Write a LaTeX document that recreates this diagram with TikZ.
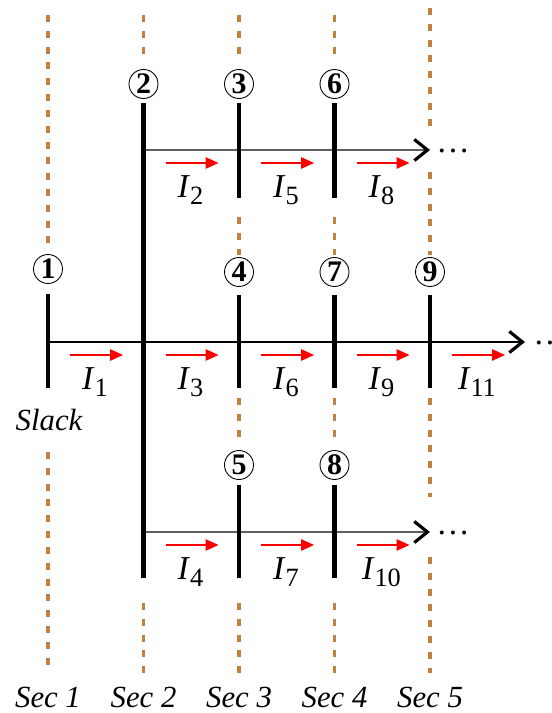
\documentclass[tikz,border=0pt]{standalone}
\usepackage{fontspec}
\setmainfont{Liberation Serif}
\usepackage{tikz}
\usetikzlibrary{arrows.meta,calc,positioning}
\definecolor{SecBrown}{HTML}{C0823E}
\definecolor{FeedGray}{HTML}{5E5E5E}
\definecolor{FlowRed}{HTML}{FF0000}
\newcommand{\cur}[1]{\textit{I}\raisebox{-0.42ex}{\fontsize{15}{15}\selectfont #1}}

\begin{document}
\begin{tikzpicture}[x=0.02cm, y=-0.02cm,
  secline/.style={draw=SecBrown, line width=2pt, dash pattern=on 4pt off 5pt},
  bus/.style={line width=2.3pt, draw=black},
  feeder/.style={draw=#1, line width=0.7pt, -{Straight Barb[length=7.5pt, width=12pt, line width=1.8pt, color=black]}},
  flow/.style={draw=FlowRed, line width=0.6pt, -{Triangle[length=7.4pt, width=6.6pt]}},
  busno/.style={circle, draw, line width=0.5pt, minimum size=16.5pt, inner sep=0pt, font=\bfseries\fontsize{17}{17}\selectfont},
  lbl/.style={font=\fontsize{17.5}{19}\selectfont\itshape, inner sep=0pt},
  curlbl/.style={font=\fontsize{19}{20}\selectfont, inner sep=0pt},
]
\useasboundingbox (0,0) rectangle (551,713);
\foreach \x/\a/\b in {48/15/250, 48/452/673,
  143.5/15/57, 143.5/603/673,
  239/15/57, 239/217/255, 239/398/442, 239/603/673,
  334.5/15/57, 334.5/217/255, 334.5/398/442, 334.5/603/673,
  430/8/128, 430/172/255, 430/398/497, 430/557/673}{
  \draw[secline] (\x,\a) -- (\x,\b);
}
\coordinate (ftop) at (143.5,150);
\coordinate (ftopend) at (430,150);
\coordinate (fmid) at (48,342);
\coordinate (fmidend) at (525,342);
\coordinate (fbot) at (143.5,532);
\coordinate (fbotend) at (430,532);
\draw[feeder=FeedGray] (ftop) -- (ftopend);
\draw[feeder=black] (fmid) -- (fmidend);
\draw[feeder=FeedGray] (fbot) -- (fbotend);
\node[curlbl] (dtop) at (453,151) {\dots};
\node[curlbl] (dmid) at (550,343) {\dots};
\node[curlbl] (dbot) at (453,533) {\dots};
\foreach \n/\x/\c/\t/\b in {1/48/269/294/388, 2/143.5/84/103/578, 3/239/84/103/198,
  4/239/272/295/388, 5/239/465/485/578, 6/334.5/84/103/198,
  7/334.5/272/295/388, 8/334.5/465/485/578, 9/430/272/295/388}{
  \coordinate (b\n t) at (\x,\t);
  \coordinate (b\n b) at (\x,\b);
  \draw[bus] (b\n t) -- (b\n b);
  \node[busno] (n\n) at (\x,\c) {\n};
}
\foreach \x/\y/\k in {143.5/150/2, 239/150/5, 334.5/150/8,
  48/342/1, 143.5/342/3, 239/342/6, 334.5/342/9, 430/342/11,
  143.5/532/4, 239/532/7, 334.5/532/10}{
  \coordinate (a\k) at (\x+22,\y+13);
  \coordinate (z\k) at (\x+75,\y+13);
  \draw[flow] (a\k) -- (z\k);
  \node[curlbl] (i\k) at (\x+47,\y+40) {\cur{\k}};
}
\node[lbl] (slack) at (49,420) {Slack};
\foreach \i/\x in {1/48, 2/143.5, 3/239, 4/334.5, 5/430}{
  \node[lbl] (sec\i) at (\x,697) {Sec \i};
}
\end{tikzpicture}
\end{document}
